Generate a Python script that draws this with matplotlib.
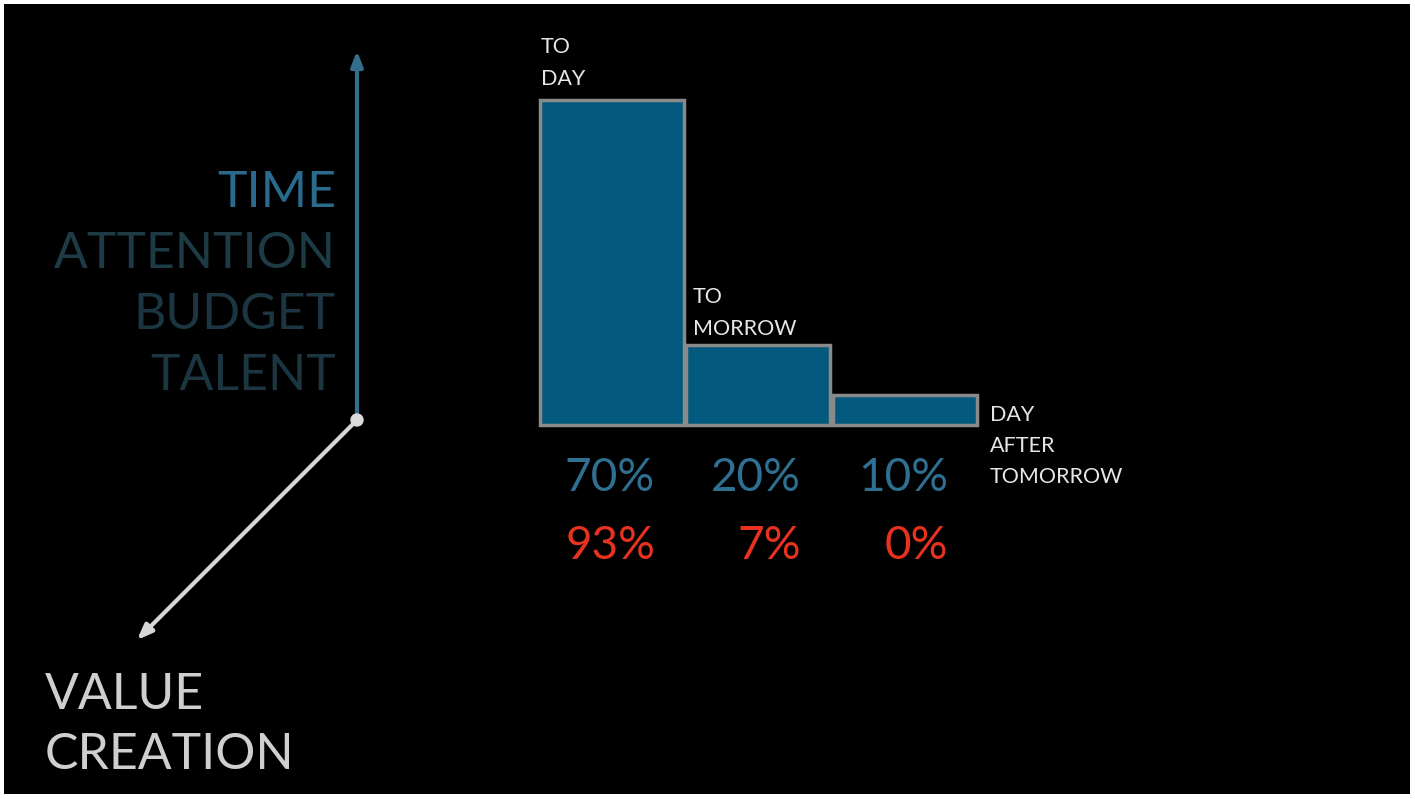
import matplotlib.pyplot as plt
from matplotlib.patches import Rectangle, Circle

# 數據
categories = ["TO\nDAY", "TO\nMORROW", "DAY\nAFTER\nTOMORROW"]
bar_heights = [325, 80, 30]          # 示意高度 (圖上像素)
time_share = [70, 20, 10]            # 投入時間 %
value_share = [93, 7, 0]             # 價值創造 %
resources = ["TIME", "ATTENTION", "BUDGET", "TALENT"]
resource_colors = ["#2a6a8c", "#1d3b44", "#1b3640", "#1b3640"]

plt.rcParams.update({
    "font.family": ["Lato", "DejaVu Sans"],
})

W, H = 1415, 799
fig = plt.figure(figsize=(W / 100, H / 100), dpi=100, facecolor="white")
ax = fig.add_axes([0, 0, 1, 1])
ax.set_xlim(0, W)
ax.set_ylim(H, 0)
ax.axis("off")

# 黑色底板
ax.add_patch(Rectangle((4, 4), 1406, 790, facecolor="black", edgecolor="none", zorder=0))

# 長條圖
base = 425
lefts = [540, 686, 833]
bottoms = [base - h for h in bar_heights]
ax.bar(lefts, bar_heights, bottom=bottoms, width=144, align="edge",
       color="#035a7e", edgecolor="#8a8a8a", linewidth=2.5, zorder=2)

# 長條標籤
label_pos = [(541, 63), (693, 313), (990, 446)]
for (x, y), lab in zip(label_pos, categories):
    ax.text(x, y, lab, color="#e6e6e6", fontsize=15.5, ha="left", va="center",
            linespacing=1.7, zorder=3)

# 百分比
right_edges = [655, 801, 948]
for x, t, v in zip(right_edges, time_share, value_share):
    ax.text(x, 478, f"{t}%", color="#2f6f92", fontsize=33, ha="right", va="center")
    ax.text(x, 546, f"{v}%", color="#e8321f", fontsize=33, ha="right", va="center")

# 縱軸箭頭
ax.annotate("", xy=(357, 48), xytext=(357, 420),
            arrowprops=dict(arrowstyle="-|>,head_length=0.9,head_width=0.35",
                            color="#336f8c", lw=3), zorder=3)
# 斜向箭頭
ax.annotate("", xy=(135, 642), xytext=(357, 420),
            arrowprops=dict(arrowstyle="-|>,head_length=0.9,head_width=0.35",
                            color="#d6d6d6", lw=3), zorder=3)
ax.add_patch(Circle((357, 420), 6, color="#dcdcdc", zorder=4))

# 資源文字
for i, (r, c) in enumerate(zip(resources, resource_colors)):
    ax.text(336, 193 + i * 61, r, color=c, fontsize=36, ha="right", va="center")

# 價值創造
ax.text(45, 695, "VALUE", color="#cfcfcf", fontsize=36, ha="left", va="center")
ax.text(45, 755, "CREATION", color="#cfcfcf", fontsize=36, ha="left", va="center")

fig.savefig("out.png", dpi=100, facecolor="white")
